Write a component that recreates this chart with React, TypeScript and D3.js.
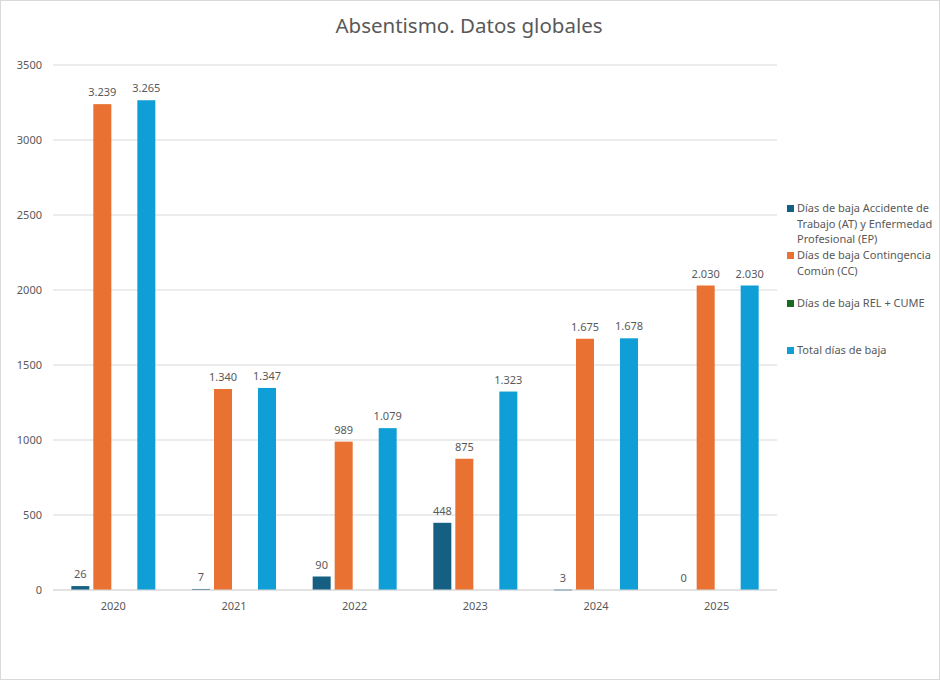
import React from "react";
import * as d3 from "d3";

const years = ["2020", "2021", "2022", "2023", "2024", "2025"];
const seriesNames = [
  "Días de baja Accidente de Trabajo (AT) y Enfermedad Profesional (EP)",
  "Días de baja Contingencia Común (CC)",
  "Días de baja REL + CUME",
  "Total días de baja",
];
const atEp = [26, 7, 90, 448, 3, 0];
const cc = [3239, 1340, 989, 875, 1675, 2030];
const relCume = [0, 0, 0, 0, 0, 0];
const total = [3265, 1347, 1079, 1323, 1678, 2030];
const showLabels = [true, true, false, true];
const colors = ["#156082", "#E97132", "#196B24", "#0F9ED5"];
const yTicks = [0, 500, 1000, 1500, 2000, 2500, 3000, 3500];
const legendLines = [
  ["Días de baja Accidente de", "Trabajo (AT) y Enfermedad", "Profesional (EP)"],
  ["Días de baja Contingencia", "Común (CC)"],
  ["Días de baja REL + CUME"],
  ["Total días de baja"],
];
const legendTops = [208, 255, 303, 350];

const W = 940;
const H = 680;
const FONT = "'Noto Sans', 'Open Sans', sans-serif";
const GRAY = "#595959";

export default function App() {
  const series = [atEp, cc, relCume, total];
  const x = d3.scaleBand<string>().domain(years).range([53, 777]).padding(0);
  const y = d3.scaleLinear().domain([0, 3500]).range([590, 65]);
  const barW = 18;
  const step = 22;
  const groupW = step * (series.length - 1) + barW;
  const inner = d3
    .scaleBand<number>()
    .domain(d3.range(series.length))
    .range([0, groupW])
    .paddingInner((step - barW) / step)
    .paddingOuter(0);
  const fmt = (v: number) => d3.format(",")(v).replace(/,/g, ".");

  return (
    <svg
      width={W}
      height={H}
      style={{ position: "absolute", left: 0, top: 0, background: "#fff" }}
      fontFamily={FONT}
    >
      <rect x={0.5} y={0.5} width={W - 1} height={H - 1} fill="#fff" stroke="#d9d9d9" />
      <text x={469} y={33} textAnchor="middle" fontSize={20.5} fill={GRAY}>
        Absentismo. Datos globales
      </text>
      {yTicks.map((t) => (
        <g key={t}>
          <line x1={53} x2={777} y1={y(t)} y2={y(t)} stroke="#d9d9d9" strokeWidth={1} />
          <text x={42} y={y(t) + 4} textAnchor="end" fontSize={11} fill={GRAY}>
            {t}
          </text>
        </g>
      ))}
      {years.map((yr, i) => {
        const cx = (x(yr) ?? 0) + x.bandwidth() / 2;
        const gx = cx - groupW / 2;
        return (
          <g key={yr}>
            {series.map((s, k) => {
              const bx = gx + (inner(k) ?? 0);
              const v = s[i];
              return (
                <g key={k}>
                  {v > 0 && (
                    <rect
                      x={bx}
                      y={y(v)}
                      width={inner.bandwidth()}
                      height={Math.max(1, y(0) - y(v))}
                      fill={colors[k]}
                    />
                  )}
                  {showLabels[k] && (
                    <text
                      x={bx + inner.bandwidth() / 2}
                      y={y(v) - 8}
                      textAnchor="middle"
                      fontSize={11}
                      fill={GRAY}
                    >
                      {fmt(v)}
                    </text>
                  )}
                </g>
              );
            })}
            <text x={cx} y={610} textAnchor="middle" fontSize={11} fill={GRAY}>
              {yr}
            </text>
          </g>
        );
      })}
      <line x1={53} x2={777} y1={y(0)} y2={y(0)} stroke="#d9d9d9" strokeWidth={1} />
      {seriesNames.map((name, k) => (
        <g key={name}>
          <rect x={787} y={legendTops[k] - 3} width={7} height={7} fill={colors[k]} />
          {legendLines[k].map((ln, j) => (
            <text key={j} x={797} y={legendTops[k] + 4 + j * 15.5} fontSize={11} fill={GRAY}>
              {ln}
            </text>
          ))}
        </g>
      ))}
    </svg>
  );
}
